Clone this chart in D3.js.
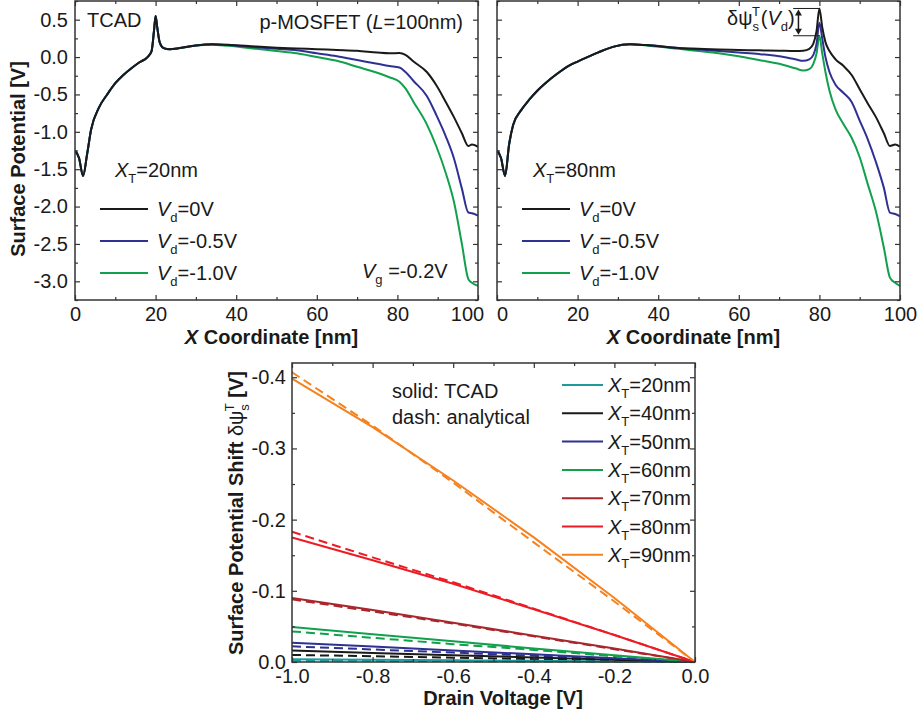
<!DOCTYPE html>
<html><head><meta charset="utf-8">
<script src="https://cdn.jsdelivr.net/npm/d3@7"></script>
<style>
body{margin:0;background:#fff}
svg{display:block}
text{font-family:"Liberation Sans",Arial,Helvetica,sans-serif;fill:#1a1a1a}
</style>
</head><body>
<svg id="c" width="919" height="716"></svg>
<script>
// ---------- DATA ----------
// Top-left panel (X_T = 20 nm): x coordinate [nm] and surface potential [V]
const xLeft   = [0,1,2,3,4,6,8,10,12,14,16,18,19,19.6,20,20.4,21,22,23.5,26,30,34,38,45,50,55,60,65,70,75,78,80.5,82,84,87.3,89.7,92,94,96,97.6,98.5,100];
const leftVd0  = [-1.25,-1.35,-1.59,-1.3,-0.97,-0.67,-0.5,-0.35,-0.24,-0.15,-0.07,0.0,0.08,0.35,0.55,0.4,0.2,0.12,0.105,0.12,0.155,0.17,0.165,0.14,0.125,0.115,0.105,0.095,0.085,0.06,0.05,0.055,0.03,-0.06,-0.2,-0.38,-0.6,-0.8,-1.02,-1.19,-1.17,-1.2];
const leftVd05 = [-1.25,-1.35,-1.59,-1.3,-0.97,-0.67,-0.5,-0.35,-0.24,-0.15,-0.07,0.0,0.08,0.35,0.55,0.4,0.2,0.12,0.105,0.12,0.155,0.17,0.16,0.13,0.11,0.09,0.05,0.01,-0.04,-0.09,-0.12,-0.14,-0.2,-0.32,-0.52,-0.78,-1.06,-1.35,-1.76,-2.08,-2.09,-2.12];
const leftVd10 = [-1.25,-1.35,-1.59,-1.3,-0.97,-0.67,-0.5,-0.35,-0.24,-0.15,-0.07,0.0,0.08,0.35,0.55,0.4,0.2,0.12,0.105,0.12,0.155,0.165,0.15,0.11,0.08,0.05,0.0,-0.05,-0.13,-0.21,-0.27,-0.33,-0.42,-0.6,-0.9,-1.2,-1.55,-1.93,-2.5,-2.97,-3.02,-3.06];

// Top-right panel (X_T = 80 nm)
const xRight   = [0,1,2,3,4,6,8,10,12,15,18,20,25,29,33,37,45,50,55,60,65,70,74,76,77.5,78.5,79.3,80,80.7,81.5,82.5,84,86,88,90,92,94,96,97.5,98.8,100];
const rightVd0  = [-1.25,-1.35,-1.59,-1.17,-0.91,-0.71,-0.57,-0.45,-0.35,-0.22,-0.11,-0.06,0.06,0.14,0.17,0.16,0.12,0.11,0.1,0.095,0.09,0.085,0.08,0.085,0.11,0.18,0.35,0.65,0.4,0.2,0.08,-0.03,-0.12,-0.24,-0.43,-0.62,-0.8,-1.02,-1.19,-1.17,-1.2];
const rightVd05 = [-1.25,-1.35,-1.59,-1.17,-0.91,-0.71,-0.57,-0.45,-0.35,-0.22,-0.11,-0.06,0.06,0.14,0.17,0.16,0.12,0.1,0.08,0.06,0.04,0.01,-0.03,-0.05,-0.03,0.03,0.18,0.46,0.25,0.0,-0.2,-0.37,-0.48,-0.6,-0.85,-1.1,-1.4,-1.75,-2.08,-2.1,-2.13];
const rightVd10 = [-1.25,-1.35,-1.59,-1.17,-0.91,-0.71,-0.57,-0.45,-0.35,-0.22,-0.11,-0.06,0.06,0.14,0.17,0.155,0.11,0.08,0.05,0.01,-0.04,-0.09,-0.15,-0.18,-0.16,-0.09,0.05,0.285,0.05,-0.2,-0.45,-0.7,-0.9,-1.08,-1.34,-1.7,-2.06,-2.55,-2.95,-3.02,-3.06];

const vdLabels = ["=0V","=-0.5V","=-1.0V"];

// Bottom panel: drain voltage [V] vs surface potential shift [V]
const drainV = [-1.0,-0.8,-0.6,-0.4,-0.2,0.0];
const xtLabels = ["20","40","50","60","70","80","90"];
const tcad = [
  [-0.004,-0.0032,-0.0024,-0.0016,-0.0008,0],
  [-0.016,-0.0128,-0.0096,-0.0064,-0.0032,0],
  [-0.027,-0.0216,-0.0162,-0.0108,-0.0054,0],
  [-0.049,-0.039,-0.029,-0.019,-0.0095,0],
  [-0.090,-0.073,-0.055,-0.037,-0.019,0],
  [-0.175,-0.143,-0.110,-0.074,-0.038,0],
  [-0.398,-0.330,-0.255,-0.175,-0.090,0]
];
const analytical = [
  [-0.002,-0.0016,-0.0012,-0.0008,-0.0004,0],
  [-0.010,-0.008,-0.006,-0.004,-0.002,0],
  [-0.022,-0.0176,-0.0132,-0.0088,-0.0044,0],
  [-0.043,-0.034,-0.025,-0.017,-0.008,0],
  [-0.088,-0.071,-0.054,-0.036,-0.018,0],
  [-0.183,-0.147,-0.112,-0.075,-0.038,0],
  [-0.407,-0.332,-0.252,-0.168,-0.085,0]
];

// ---------- STYLE ----------
const topColors = ["#1a1a1a","#2e3192","#11a04c"];
const botColors = ["#1e9a9a","#1a1a1a","#2e3192","#11a04c","#a8262c","#ed1c24","#f5821f"];
const FRAME = "#333";

const svg = d3.select("#c");
const fmt1 = d => (Math.abs(d) < 1e-9 ? 0 : d).toFixed(1);

function frame(g, x, y, o) {
  const [x0,x1] = x.range(), [y0,y1] = y.range();
  const W = x1 - x0, H = y0 - y1;
  const style = s => { s.select(".domain").remove(); s.selectAll("line").attr("stroke", FRAME).attr("stroke-width",1.2); s.selectAll("text").attr("font-size",20).attr("fill","#1a1a1a").attr("font-family","'Liberation Sans',Arial,sans-serif"); };
  const b = g.append("g").attr("transform",`translate(0,${y0})`)
    .call(d3.axisBottom(x).tickValues(o.xMajor).tickSize(-5).tickPadding(6.5).tickFormat(o.xFmt)).call(style);
  if (o.xShift) b.selectAll(".tick text").attr("dx", d => o.xShift(d));
  g.append("g").attr("transform",`translate(0,${y0})`)
    .call(d3.axisBottom(x).tickValues(o.xMinor).tickSize(-3).tickFormat("")).call(style);
  g.append("g").attr("transform",`translate(0,${y1})`)
    .call(d3.axisTop(x).tickValues(o.xMajor).tickSize(-5).tickFormat("")).call(style);
  g.append("g").attr("transform",`translate(0,${y1})`)
    .call(d3.axisTop(x).tickValues(o.xMinor).tickSize(-3).tickFormat("")).call(style);
  g.append("g").attr("transform",`translate(${x0},0)`)
    .call(d3.axisLeft(y).tickValues(o.yMajor).tickSize(-5).tickPadding(o.yPad).tickFormat(o.yLabels ? fmt1 : "")).call(style);
  g.append("g").attr("transform",`translate(${x0},0)`)
    .call(d3.axisLeft(y).tickValues(o.yMinor).tickSize(-3).tickFormat("")).call(style);
  g.append("g").attr("transform",`translate(${x1},0)`)
    .call(d3.axisRight(y).tickValues(o.yMajor).tickSize(-5).tickFormat("")).call(style);
  g.append("g").attr("transform",`translate(${x1},0)`)
    .call(d3.axisRight(y).tickValues(o.yMinor).tickSize(-3).tickFormat("")).call(style);
  g.append("rect").attr("x",x0).attr("y",y1).attr("width",W).attr("height",H)
    .attr("fill","none").attr("stroke",FRAME).attr("stroke-width",1.5);
}

// ---------- TOP PANELS ----------
const yTop = d3.scaleLinear().domain([-3.25,0.75]).range([300,1]);
const xL = d3.scaleLinear().domain([0,100]).range([75,478]);
const xR = d3.scaleLinear().domain([0,100]).range([497,900]);
const topOpts = {
  xMajor: d3.range(0,101,20), xMinor: d3.range(10,100,20), xFmt: d => d,
  yMajor: d3.range(-3.0,0.51,0.5).map(v=>+v.toFixed(2)), yMinor: d3.range(-3.25,0.76,0.5).map(v=>+v.toFixed(2)),
  yPad: 7
};

function topPanel(x, xs, series, yLabels, xtText) {
  const g = svg.append("g");
  const clipId = "clip" + Math.round(x.range()[0]);
  g.append("clipPath").attr("id",clipId).append("rect")
    .attr("x",x.range()[0]).attr("y",yTop.range()[1]).attr("width",x.range()[1]-x.range()[0]).attr("height",yTop.range()[0]-yTop.range()[1]);
  const line = d3.line().x((d,i)=>x(xs[i])).y(d=>yTop(d)).curve(d3.curveMonotoneX);
  const cg = g.append("g").attr("clip-path",`url(#${clipId})`);
  [2,1,0].forEach(k => {
    cg.append("path").attr("d", line(series[k])).attr("fill","none")
      .attr("stroke",topColors[k]).attr("stroke-width",2).attr("stroke-linejoin","round");
  });
  // keep the "100" of the left panel and the "0" of the right panel apart
  const xShift = yLabels ? (d => d === 100 ? -11 : 0) : (d => d === 0 ? 5 : 0);
  frame(g, x, yTop, Object.assign({}, topOpts, {yLabels, xShift}));
  // axis title
  const cx = (x.range()[0]+x.range()[1])/2 - 5;
  const t = g.append("text").attr("x",cx).attr("y",343.5).attr("text-anchor","middle").attr("font-size",20).attr("font-weight","bold");
  t.append("tspan").attr("font-style","italic").text("X");
  t.append("tspan").text(" Coordinate [nm]");
  // legend
  const lx = x.range()[0];
  const xt = g.append("text").attr("x", lx + (yLabels?40:36)).attr("y",177).attr("font-size",20);
  xt.append("tspan").attr("font-style","italic").text("X");
  xt.append("tspan").attr("font-size",13).attr("dy",6).text("T");
  xt.append("tspan").attr("dy",-6).text("=" + xtText + "nm");
  vdLabels.forEach((lab,k) => {
    const yy = 209 + k*32;
    g.append("line").attr("x1",lx+25).attr("x2",lx+73).attr("y1",yy).attr("y2",yy)
      .attr("stroke",topColors[k]).attr("stroke-width",2);
    const tt = g.append("text").attr("x",lx+82).attr("y",yy+7).attr("font-size",20);
    tt.append("tspan").attr("font-style","italic").text("V");
    tt.append("tspan").attr("font-size",13).attr("dy",6).text("d");
    tt.append("tspan").attr("dy",-6).text(lab);
  });
  return g;
}

const gL = topPanel(xL, xLeft, [leftVd0,leftVd05,leftVd10], true, "20");
const gR = topPanel(xR, xRight, [rightVd0,rightVd05,rightVd10], false, "80");

// left-panel annotations
svg.append("text").attr("x",87).attr("y",27).attr("font-size",20).text("TCAD");
{
  const t = svg.append("text").attr("x",463).attr("y",29).attr("text-anchor","end").attr("font-size",20);
  t.append("tspan").text("p-MOSFET (");
  t.append("tspan").attr("font-style","italic").text("L");
  t.append("tspan").text("=100nm)");
  const v = svg.append("text").attr("x",362).attr("y",278).attr("font-size",20);
  v.append("tspan").attr("font-style","italic").text("V");
  v.append("tspan").attr("font-size",13).attr("dy",6).text("g");
  v.append("tspan").attr("dy",-6).text(" =-0.2V");
}
// y title top
svg.append("text").attr("transform","translate(25,159) rotate(-90)").attr("text-anchor","middle")
  .attr("font-size",20).attr("font-weight","bold").text("Surface Potential [V]");

// right-panel delta annotation
{
  const topV = d3.max(rightVd0), botV = d3.max(rightVd10);
  const yA = yTop(topV), yB = yTop(botV);
  [yA,yB].forEach(yy => svg.append("line").attr("x1",xR(73.5)).attr("x2",xR(80)).attr("y1",yy).attr("y2",yy)
     .attr("stroke","#1a1a1a").attr("stroke-width",1));
  const ax = xR(74.8);
  svg.append("line").attr("x1",ax).attr("x2",ax).attr("y1",yA+5).attr("y2",yB-5).attr("stroke","#1a1a1a").attr("stroke-width",1.5);
  svg.append("path").attr("d",`M${ax-3.5},${yA+7}L${ax},${yA+1}L${ax+3.5},${yA+7}Z`).attr("fill","#1a1a1a");
  svg.append("path").attr("d",`M${ax-3.5},${yB-7}L${ax},${yB-1}L${ax+3.5},${yB-7}Z`).attr("fill","#1a1a1a");
  const t = svg.append("text").attr("x",727).attr("y",25).attr("font-size",20);
  t.append("tspan").text("δψ");
  t.append("tspan").attr("font-size",13).attr("dy",6).text("s");
  t.append("tspan").attr("font-size",13).attr("dy",-15).attr("dx",-7).text("T");
  t.append("tspan").attr("dy",9).attr("dx",1).text("(");
  t.append("tspan").attr("font-style","italic").text("V");
  t.append("tspan").attr("font-size",13).attr("dy",6).text("d");
  t.append("tspan").attr("dy",-6).text(")");
}

// ---------- BOTTOM PANEL ----------
const xB = d3.scaleLinear().domain([-1.0,0.0]).range([292,695]);
const yB = d3.scaleLinear().domain([0,-0.42]).range([662,363]);
const gB = svg.append("g");
const lineB = d3.line().x((d,i)=>xB(drainV[i])).y(d=>yB(d));
analytical.forEach((s,k) => gB.append("path").attr("d",lineB(s)).attr("fill","none")
  .attr("stroke",botColors[k]).attr("stroke-width",2).attr("stroke-dasharray","9,5"));
tcad.forEach((s,k) => gB.append("path").attr("d",lineB(s)).attr("fill","none")
  .attr("stroke",botColors[k]).attr("stroke-width",2));
frame(gB, xB, yB, {
  xMajor: d3.range(-1.0,0.01,0.2).map(v=>+v.toFixed(2)), xMinor: d3.range(-0.9,0,0.2).map(v=>+v.toFixed(2)), xFmt: fmt1,
  yMajor: [0,-0.1,-0.2,-0.3,-0.4], yMinor: [-0.05,-0.15,-0.25,-0.35],
  yPad: 6, yLabels: true
});
// legend
xtLabels.forEach((lab,k) => {
  const yy = 385 + k*28.3;
  gB.append("line").attr("x1",562).attr("x2",603).attr("y1",yy).attr("y2",yy).attr("stroke",botColors[k]).attr("stroke-width",2);
  const t = gB.append("text").attr("x",608).attr("y",yy+7).attr("font-size",20);
  t.append("tspan").attr("font-style","italic").text("X");
  t.append("tspan").attr("font-size",13).attr("dy",6).text("T");
  t.append("tspan").attr("dy",-6).text("=" + lab + "nm");
});
gB.append("text").attr("x",392).attr("y",398).attr("font-size",20).text("solid: TCAD");
gB.append("text").attr("x",392).attr("y",424).attr("font-size",20).text("dash: analytical");
// axis titles
gB.append("text").attr("x",503).attr("y",705).attr("text-anchor","middle").attr("font-size",20).attr("font-weight","bold").text("Drain Voltage [V]");
{
  const t = gB.append("text").attr("transform","translate(243,513) rotate(-90)").attr("text-anchor","middle").attr("font-size",20).attr("font-weight","bold");
  t.append("tspan").text("Surface Potential Shift ");
  t.append("tspan").attr("font-weight","normal").text("δψ");
  t.append("tspan").attr("font-weight","normal").attr("font-size",13).attr("dy",6).text("s");
  t.append("tspan").attr("font-weight","normal").attr("font-size",13).attr("dy",-15).attr("dx",-7).text("T");
  t.append("tspan").attr("dy",9).text(" [V]");
}
</script>
</body></html>
